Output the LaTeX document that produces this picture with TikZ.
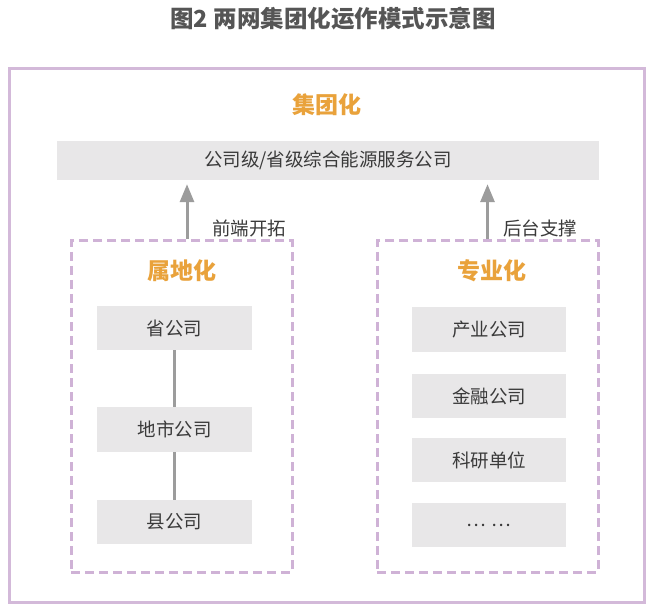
\documentclass[tikz,border=0pt]{standalone}
\usepackage{fontspec}
\setmainfont{Noto Sans CJK SC}
\usetikzlibrary{arrows.meta}
\definecolor{framepurple}{HTML}{D3B9D9}
\definecolor{dashpurple}{HTML}{CFB2D6}
\definecolor{boxgray}{HTML}{E8E7E8}
\definecolor{linegray}{HTML}{9C9C9C}
\definecolor{orangetxt}{HTML}{E9A23B}
\definecolor{titlegray}{HTML}{555555}
\definecolor{bodytxt}{HTML}{3A3A3A}
\begin{document}
\begin{tikzpicture}[x=1pt,y=-1pt,
  graybox/.style={draw=none,fill=boxgray,inner sep=0pt,text=bodytxt,
    font=\fontsize{18.5}{21}\selectfont},
  dashbox/.style={draw=dashpurple,line width=3pt,dash pattern=on 9pt off 5pt,inner sep=0pt},
  headtxt/.style={text=orangetxt,font=\fontsize{23}{25}\selectfont\bfseries,inner sep=0pt},
  labtxt/.style={text=bodytxt,font=\fontsize{18.5}{21}\selectfont,inner sep=0pt,anchor=west},
  arr/.style={draw=linegray,line width=3pt,-{Triangle[width=14pt,length=18pt]}},
  conn/.style={draw=linegray,line width=2.5pt}]
\useasboundingbox (0,0) rectangle (654,607);
\fill[white] (0,0) rectangle (654,607);
% title
\node[inner sep=0pt,text=titlegray,font=\fontsize{23.5}{26}\selectfont\bfseries] (title) at (333,19) {图2 两网集团化运作模式示意图};
% outer frame
\node[draw=framepurple,line width=3pt,minimum width=635pt,minimum height=533pt,inner sep=0pt] (outer) at (327,335.5) {};
\node[headtxt] (jt) at (327,105) {集团化};
\node[graybox,minimum width=542pt,minimum height=39pt] (top) at (328,160.5) {公司级/省级综合能源服务公司};
% dashed groups
\node[dashbox,minimum width=221pt,minimum height=331pt] (L) at (181.5,406.5) {};
\node[dashbox,minimum width=221pt,minimum height=331pt] (R) at (487.5,406.5) {};
\node[headtxt] (sd) at (182,271) {属地化};
\node[headtxt] (zy) at (492,271) {专业化};
% left boxes
\node[graybox,minimum width=155pt,minimum height=44pt] (s1) at (174.5,328) {省公司};
\node[graybox,minimum width=155pt,minimum height=45pt] (s2) at (174.5,429.5) {地市公司};
\node[graybox,minimum width=155pt,minimum height=44pt] (s3) at (174.5,522) {县公司};
\draw[conn] (s1) -- (s2);
\draw[conn] (s2) -- (s3);
% right boxes
\node[graybox,minimum width=154pt,minimum height=45pt] (r1) at (489,329.5) {产业公司};
\node[graybox,minimum width=154pt,minimum height=44pt] (r2) at (489,396) {金融公司};
\node[graybox,minimum width=154pt,minimum height=44pt] (r3) at (489,460) {科研单位};
\node[graybox,minimum width=154pt,minimum height=44pt] (r4) at (489,525) {…\hspace{6pt}…};
% arrows
\draw[arr,shorten >=4pt] ([xshift=5.5pt]L.north) -- ([xshift=5.5pt]L.north |- top.south);
\draw[arr,shorten >=4pt] (R.north) -- (R.north |- top.south);
\node[labtxt] (la) at (212,228) {前端开拓};
\node[labtxt] (lb) at (503,228) {后台支撑};
\end{tikzpicture}
\end{document}
